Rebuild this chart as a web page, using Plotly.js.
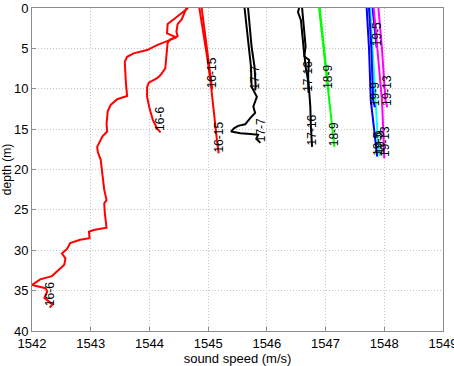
<!DOCTYPE html>
<html>
<head>
<meta charset="utf-8">
<script src="https://cdn.plot.ly/plotly-3.0.1.min.js"></script>
<style>
  html, body { margin: 0; padding: 0; background: #fff; }
  #chart { width: 454px; height: 366px; }
</style>
</head>
<body>
<div id="chart"></div>
<script>
// Sound-speed profiles (m/s) against depth (m), one array pair per cast.
const cast16_6a_c = [1544.66, 1544.55, 1544.41, 1544.31, 1544.30, 1544.46, 1544.30, 1544.13, 1543.96, 1543.73, 1543.62, 1543.58, 1543.60, 1543.62, 1543.45, 1543.34, 1543.29, 1543.27, 1543.28, 1543.20, 1543.11, 1543.12, 1543.17, 1543.21, 1543.23, 1543.27, 1543.23, 1543.24, 1543.27, 1543.05, 1542.97, 1542.98, 1542.82, 1542.65, 1542.60, 1542.51, 1542.57, 1542.55, 1542.46, 1542.34, 1542.14, 1542.00, 1542.23, 1542.26, 1542.21, 1542.29, 1542.35, 1542.30];
const cast16_6a_z = [0, 0.67, 1.42, 1.99, 3.14, 3.64, 4.06, 4.59, 5.21, 5.62, 6.04, 6.66, 9.33, 10.9, 11.3, 12.0, 12.8, 14.3, 15.3, 15.9, 17.2, 17.8, 18.8, 21.1, 22.5, 23.8, 24.2, 25.4, 27.2, 27.5, 27.7, 28.5, 28.7, 29.1, 29.8, 30.4, 31.0, 31.8, 32.4, 33.2, 33.6, 34.3, 34.7, 35.1, 35.9, 36.4, 36.7, 37.1];

const cast16_6b_c = [1544.63, 1544.59, 1544.55, 1544.48, 1544.46, 1544.48, 1544.36, 1544.31, 1544.29, 1544.27, 1544.19, 1544.13, 1543.99, 1543.96, 1543.96, 1544.00, 1544.06, 1544.13, 1544.19];
const cast16_6b_z = [0, 0.67, 1.42, 1.99, 2.94, 3.48, 3.89, 4.3, 6.03, 7.48, 8.3, 8.7, 9.25, 9.8, 10.98, 12.4, 13.9, 14.9, 15.4];

const cast16_15a_c = [1544.85, 1544.92, 1544.99, 1545.05, 1545.10, 1545.15, 1545.18];
const cast16_15a_z = [0, 3.1, 6.4, 9.7, 13.5, 16.4, 18.0];
const cast16_15b_c = [1544.89, 1544.93, 1544.98, 1545.02, 1545.07];
const cast16_15b_z = [0, 2.3, 5.2, 7.6, 10.1];

const cast17_7a_c = [1545.62, 1545.69, 1545.73, 1545.74, 1545.83, 1545.77, 1545.80, 1545.72, 1545.63, 1545.51, 1545.44, 1545.39, 1545.55, 1545.72, 1545.85, 1545.82, 1545.89];
const cast17_7a_z = [0, 4.8, 7.3, 9.75, 11.0, 12.2, 13.0, 13.6, 14.4, 14.6, 14.9, 15.3, 15.5, 15.6, 15.7, 16.2, 16.7];
const cast17_7b_c = [1545.68, 1545.74, 1545.79, 1545.81, 1545.80];
const cast17_7b_z = [0, 4.8, 7.3, 9.75, 10.2];

const cast17_16a_c = [1546.55, 1546.53, 1546.58, 1546.60, 1546.62, 1546.64, 1546.72, 1546.71, 1546.70, 1546.72, 1546.74, 1546.75, 1546.77];
const cast17_16a_z = [0, 0.5, 1.5, 3.1, 4.8, 6.0, 6.45, 7.3, 8.5, 10.2, 12.2, 14.7, 17.2];
const cast17_16b_c = [1546.60, 1546.62, 1546.64, 1546.66, 1546.64, 1546.66, 1546.70, 1546.71];
const cast17_16b_z = [0, 1.5, 3.1, 4.8, 5.8, 7.3, 8.9, 10.5];

const cast18_9a_c = [1546.89, 1546.95, 1547.01, 1547.06, 1547.11, 1547.15];
const cast18_9a_z = [0, 4, 8, 12, 15, 17.2];
const cast18_9b_c = [1546.90, 1546.96, 1547.01, 1547.05];
const cast18_9b_z = [0, 4, 8, 10.2];

const cast19_5a_c = [1547.70, 1547.74, 1547.77, 1547.85, 1547.88];
const cast19_5a_z = [0, 5, 11.4, 16.3, 18.4];
const cast19_5b_c = [1547.80, 1547.84, 1547.87];
const cast19_5b_z = [0, 3, 4.9];
const cast19_9a_c = [1547.76, 1547.80, 1547.84, 1547.89, 1547.92];
const cast19_9a_z = [0, 5, 11.4, 16.3, 18.3];
const cast19_9b_c = [1547.74, 1547.78, 1547.81, 1547.84];
const cast19_9b_z = [0, 5, 11.4, 12.3];
const cast19_13a_c = [1547.82, 1547.88, 1547.96, 1547.99, 1548.00];
const cast19_13a_z = [0, 5, 11.4, 16.3, 18.6];
const cast19_13b_c = [1547.90, 1547.96, 1548.02, 1548.05];
const cast19_13b_z = [0, 5, 11.4, 12.3];

// Cast name, speed array, depth array, colour, width
const casts = [
  ['16-6',  cast16_6a_c,  cast16_6a_z,  '#ff0000', 2],
  ['16-6',  cast16_6b_c,  cast16_6b_z,  '#ff0000', 2],
  ['16-15', cast16_15a_c, cast16_15a_z, '#ff0000', 2],
  ['16-15', cast16_15b_c, cast16_15b_z, '#ff0000', 2],
  ['17-7',  cast17_7a_c,  cast17_7a_z,  '#000000', 2],
  ['17-7',  cast17_7b_c,  cast17_7b_z,  '#000000', 2],
  ['17-16', cast17_16a_c, cast17_16a_z, '#000000', 2],
  ['17-16', cast17_16b_c, cast17_16b_z, '#000000', 2],
  ['18-9',  cast18_9a_c,  cast18_9a_z,  '#00ff00', 2],
  ['18-9',  cast18_9b_c,  cast18_9b_z,  '#00ff00', 2],
  ['19-5',  cast19_5a_c,  cast19_5a_z,  '#0000ff', 2],
  ['19-5',  cast19_5b_c,  cast19_5b_z,  '#0000ff', 2],
  ['19-9',  cast19_9a_c,  cast19_9a_z,  '#00ffff', 2],
  ['19-9',  cast19_9b_c,  cast19_9b_z,  '#0000ff', 2],
  ['19-13', cast19_13a_c, cast19_13a_z, '#ff00ff', 2],
  ['19-13', cast19_13b_c, cast19_13b_z, '#ff00ff', 2]
];

const xTicks = [1542, 1543, 1544, 1545, 1546, 1547, 1548, 1549];
const yTicks = [0, 5, 10, 15, 20, 25, 30, 35, 40];

const traces = casts.map(c => ({
  type: 'scatter', mode: 'lines', name: c[0],
  x: c[1], y: c[2],
  line: { color: c[3], width: c[4] },
  hoverinfo: 'skip', showlegend: false
}));

// Each cast is tagged with its name at its deepest point, written upward.
const annotations = casts.map(c => ({
  x: c[1][c[1].length - 1], y: c[2][c[2].length - 1],
  xref: 'x', yref: 'y', text: c[0], showarrow: false,
  textangle: -90, xanchor: 'center', yanchor: 'bottom',
  font: { family: 'Liberation Sans, Arial, sans-serif', size: 12, color: '#000' },
  borderpad: 0
}));

const axisCommon = {
  showline: true, mirror: true, linecolor: '#8c8c8c', linewidth: 1,
  showgrid: true, gridcolor: '#c4c4c4', griddash: '1px,2px', gridwidth: 1,
  zeroline: false, ticks: 'inside', ticklen: 4, tickcolor: '#8c8c8c',
  ticklabeloverflow: 'allow',
  tickfont: { family: 'Liberation Sans, Arial, sans-serif', size: 13, color: '#000' }
};

const layout = {
  width: 454, height: 366,
  margin: { l: 32, r: 11, t: 8, b: 35 },
  paper_bgcolor: '#fff', plot_bgcolor: '#fff',
  xaxis: Object.assign({}, axisCommon, {
    range: [1542, 1549], tickvals: xTicks, ticktext: xTicks.map(String),
    title: { text: 'sound speed (m/s)', standoff: 2,
             font: { family: 'Liberation Sans, Arial, sans-serif', size: 13, color: '#000' } }
  }),
  yaxis: Object.assign({}, axisCommon, {
    range: [40, 0], tickvals: yTicks, ticktext: yTicks.map(String),
    title: { text: 'depth (m)', standoff: 2,
             font: { family: 'Liberation Sans, Arial, sans-serif', size: 12, color: '#000' } }
  }),
  annotations: annotations
};

Plotly.newPlot('chart', traces, layout, { staticPlot: true, displayModeBar: false });
</script>
</body>
</html>
